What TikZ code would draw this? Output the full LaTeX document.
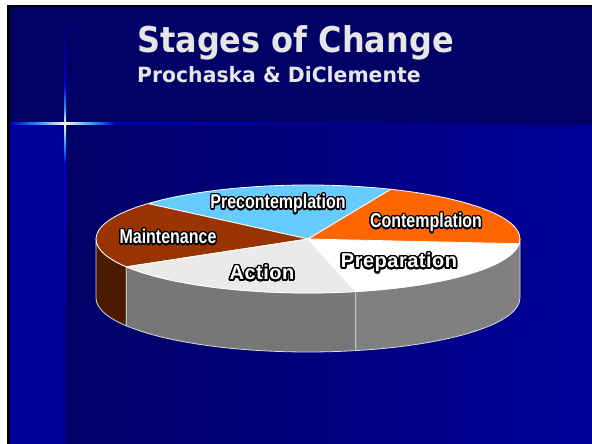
\documentclass[tikz,border=0pt]{standalone}
\usepackage{fontspec}
\usepackage[copies]{contour}
\newfontfamily\titlefont{DejaVu Sans}[FakeStretch=0.9]
\newfontfamily\subtitlefont{DejaVu Sans}[FakeStretch=0.97]
\newfontfamily\narrowfont{Liberation Sans}[FakeStretch=0.8]
\newfontfamily\widefont{Liberation Sans}[LetterSpace=2.5]
\contournumber{32}
\definecolor{hdrnavy}{HTML}{000066}
\definecolor{slideblue}{HTML}{000099}
\definecolor{flareblue}{HTML}{3399FF}
\definecolor{flarewhite}{HTML}{FFFFE0}
\definecolor{preconcol}{HTML}{66CCFF}
\definecolor{contemcol}{HTML}{FF6600}
\definecolor{prepcol}{HTML}{FFFFFF}
\definecolor{actioncol}{HTML}{EAEAEA}
\definecolor{maintcol}{HTML}{993300}
\definecolor{maintside}{HTML}{4D1A00}
\definecolor{actionside}{HTML}{777777}
\definecolor{prepside}{HTML}{808080}
\definecolor{titlegray}{HTML}{E6E6E6}
\tikzset{
  topslice/.style={draw=white, line width=0.8pt},
  sideface/.style={draw=white!85!black, line width=0.8pt},
  narrowlab/.style={anchor=base, inner sep=0pt, text=white,
    font=\narrowfont\bfseries\fontsize{20}{20}\selectfont},
  widelab/.style={anchor=base, inner sep=0pt, text=white,
    font=\widefont\bfseries\fontsize{20}{20}\selectfont},
  titletext/.style={anchor=base west, inner sep=0pt, text=titlegray}
}
\newcommand{\pieR}{212pt and 54pt}
\begin{document}
\begin{tikzpicture}[x=1pt,y=1pt,line join=round]
\useasboundingbox (0,0) rectangle (592,444);
% frame and background
\fill[white] (0,0) rectangle (592,444);
\fill[black] (7,0) rectangle (592,439);
\fill[slideblue] (10,0) rectangle (65,319);
\shade[left color=hdrnavy, right color=slideblue] (65,0) rectangle (592,319);
\fill[hdrnavy] (10,319) rectangle (592,437);
% flare: horizontal
\shade[left color=hdrnavy!40!blue, right color=flareblue] (10,319) rectangle (40,321);
\shade[left color=flareblue, right color=flarewhite] (40,319) rectangle (65,321);
\shade[left color=flarewhite, right color=flareblue] (65,319) rectangle (92,321);
\shade[left color=flareblue, right color=blue!85!black] (92,319) rectangle (114,321);
\shade[left color=blue!70!black, right color=hdrnavy] (114,319) rectangle (592,321);
% flare: vertical
\shade[top color=hdrnavy, bottom color=blue!80!black] (64,360) rectangle (66,424);
\shade[top color=blue!80!black, bottom color=flareblue] (64,335) rectangle (66,360);
\shade[top color=flareblue, bottom color=flarewhite] (64,320) rectangle (66,335);
\shade[top color=flarewhite, bottom color=flareblue] (64,300) rectangle (66,320);
\shade[top color=flareblue, bottom color=blue!85!black] (64,280) rectangle (66,300);
\shade[top color=blue!80!black, bottom color=slideblue] (64,140) rectangle (66,280);
% pie: side faces
\begin{scope}[shift={(308,205)}]
\fill[maintside, sideface] (180:\pieR) arc[start angle=180, end angle=211, x radius=212pt, y radius=54pt]
  -- ++(0,-59) arc[start angle=211, end angle=180, x radius=212pt, y radius=54pt] -- cycle;
\fill[actionside, sideface] (211:\pieR) arc[start angle=211, end angle=283, x radius=212pt, y radius=54pt]
  -- ++(0,-59) arc[start angle=283, end angle=211, x radius=212pt, y radius=54pt] -- cycle;
\fill[prepside, sideface] (283:\pieR) arc[start angle=283, end angle=360, x radius=212pt, y radius=54pt]
  -- ++(0,-59) arc[start angle=360, end angle=283, x radius=212pt, y radius=54pt] -- cycle;
% pie: top slices
\fill[preconcol, topslice] (0,0) -- (67:\pieR) arc[start angle=67, end angle=139, x radius=212pt, y radius=54pt] -- cycle;
\fill[maintcol, topslice] (0,0) -- (139:\pieR) arc[start angle=139, end angle=211, x radius=212pt, y radius=54pt] -- cycle;
\fill[actioncol, topslice] (0,0) -- (211:\pieR) arc[start angle=211, end angle=283, x radius=212pt, y radius=54pt] -- cycle;
\fill[prepcol, topslice] (0,0) -- (283:\pieR) arc[start angle=283, end angle=355, x radius=212pt, y radius=54pt] -- cycle;
\fill[contemcol, topslice] (0,0) -- (355:\pieR) arc[start angle=355, end angle=427, x radius=212pt, y radius=54pt] -- cycle;
\end{scope}
% labels
\contourlength{1.2pt}
\node[narrowlab] (lprecon) at (278,235) {\contour{black}{Precontemplation}};
\node[narrowlab] (lmaint) at (168,200) {\contour{black}{Maintenance}};
\node[narrowlab] (lcontem) at (426,216) {\contour{black}{Contemplation}};
\contourlength{1.5pt}
\node[widelab] (laction) at (262,164) {\contour{black}{Action}};
\node[widelab] (lprep) at (399,176) {\contour{black}{Preparation}};
% titles
\node[titletext, font=\titlefont\bfseries\fontsize{35.5}{35.5}\selectfont] (title) at (137,391) {Stages of Change};
\node[titletext, font=\subtitlefont\bfseries\fontsize{21}{21}\selectfont] (subtitle) at (137,361) {Prochaska \& DiClemente};
\end{tikzpicture}
\end{document}
